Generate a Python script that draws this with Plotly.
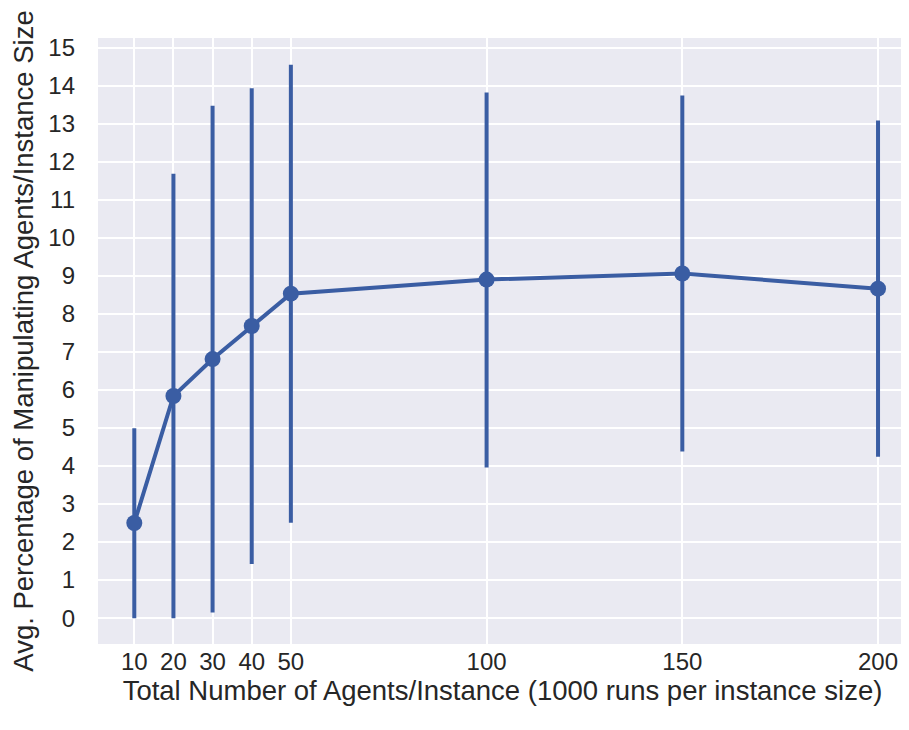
import plotly.graph_objects as go

sizes = [10, 20, 30, 40, 50, 100, 150, 200]
means = [2.50, 5.84, 6.81, 7.68, 8.53, 8.90, 9.06, 8.66]
upper = [4.99, 11.68, 13.47, 13.93, 14.55, 13.82, 13.74, 13.08]
lower = [0.0, 0.0, 0.15, 1.42, 2.51, 3.96, 4.38, 4.24]
yticks = list(range(0, 16))

color = "#3A5DA3"
err_plus = [u - m for u, m in zip(upper, means)]
err_minus = [m - l for m, l in zip(means, lower)]

fig = go.Figure()
fig.add_trace(go.Scatter(
    x=sizes, y=means, mode="lines+markers",
    line=dict(color=color, width=4),
    marker=dict(color=color, size=16),
    error_y=dict(type="data", symmetric=False, array=err_plus, arrayminus=err_minus,
                 color=color, thickness=4, width=0),
    showlegend=False,
))

font = "Liberation Sans, Arial, sans-serif"
fig.update_layout(
    width=909, height=730,
    margin=dict(l=90, r=10, t=30, b=94),
    paper_bgcolor="white", plot_bgcolor="#EAEAF2",
    font=dict(family=font, size=24, color="#262626"),
    xaxis=dict(
        range=[0.73, 207.4], tickvals=sizes, ticktext=[str(s) for s in sizes],
        showgrid=True, gridcolor="white", gridwidth=2, zeroline=False,
        showline=False, ticks="", tickfont=dict(size=24), automargin=False,
        ticklabelstandoff=1,
        title=dict(text="Total Number of Agents/Instance (1000 runs per instance size)",
                   font=dict(size=27.5), standoff=4),
    ),
    yaxis=dict(
        range=[-0.68, 15.25], tickvals=yticks,
        showgrid=True, gridcolor="white", gridwidth=2, zeroline=False,
        showline=False, ticks="", tickfont=dict(size=24), ticklabelstandoff=22,
        automargin=False,
        title=dict(text="Avg. Percentage of Manipulating Agents/Instance Size",
                   font=dict(size=27.5), standoff=6),
    ),
)

fig.write_html("out.html")
